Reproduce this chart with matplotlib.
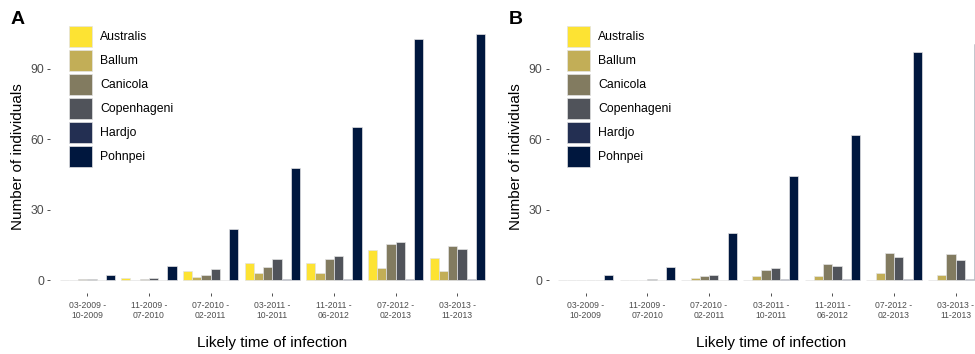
import numpy as np
import matplotlib
matplotlib.use("Agg")
import matplotlib.pyplot as plt

plt.rcParams["font.family"] = ["Liberation Sans", "DejaVu Sans"]

periods = ["03-2009 -\n10-2009", "11-2009 -\n07-2010", "07-2010 -\n02-2011",
           "03-2011 -\n10-2011", "11-2011 -\n06-2012", "07-2012 -\n02-2013",
           "03-2013 -\n11-2013"]
serovars = ["Australis", "Ballum", "Canicola", "Copenhageni", "Hardjo", "Pohnpei"]
colors = ["#FDE333", "#C2AE57", "#827B60", "#50535A", "#232F52", "#00173E"]

# panel A: counts per period for each serovar
a_australis = [0.2, 1.0, 3.7, 7.2, 7.2, 13.0, 9.5]
a_ballum = [0.2, 0.2, 1.4, 3.1, 3.1, 5.0, 3.7]
a_canicola = [0.3, 0.5, 2.3, 5.5, 8.9, 15.3, 14.7]
a_copenhageni = [0.7, 1.0, 4.7, 8.9, 10.3, 16.2, 13.4]
a_hardjo = [0.2, 0.2, 0.2, 0.6, 0.6, 0.6, 0.6]
a_pohnpei = [2.0, 5.9, 22.0, 47.6, 65.4, 102.7, 105.0]

# panel B
b_australis = [0.2, 0.0, 0.2, 0.2, 0.2, 0.2, 0.2]
b_ballum = [0.2, 0.2, 1.0, 1.8, 1.8, 3.1, 2.3]
b_canicola = [0.2, 0.2, 1.8, 4.2, 6.8, 11.7, 11.2]
b_copenhageni = [0.2, 0.6, 2.3, 5.1, 5.9, 9.9, 8.5]
b_hardjo = [0.2, 0.2, 0.2, 0.6, 0.6, 0.6, 0.6]
b_pohnpei = [2.0, 5.7, 20.2, 44.4, 62.0, 97.0, 100.6]

panel_a = [a_australis, a_ballum, a_canicola, a_copenhageni, a_hardjo, a_pohnpei]
panel_b = [b_australis, b_ballum, b_canicola, b_copenhageni, b_hardjo, b_pohnpei]

W, H = 975, 354
fig = plt.figure(figsize=(W / 100, H / 100), dpi=100)


def draw_panel(left_px, series, letter):
    ax = fig.add_axes([left_px / W, 61.5 / H, 444 / W, 271.2 / H])
    x = np.arange(len(periods))
    bw = 0.15
    for i, (vals, c, name) in enumerate(zip(series, colors, serovars)):
        ax.bar(x + (i - 2.5) * bw, vals, width=bw, color=c, edgecolor="#E3E3E3",
               linewidth=0.5, label=name)
    ax.set_xlim(-0.6, len(periods) - 0.4)
    ax.set_ylim(-5.25, 110.25)
    ax.set_yticks([0, 30, 60, 90])
    ax.set_xticks(x)
    ax.set_xticklabels(periods, fontsize=6.2, color="#4D4D4D", linespacing=1.15)
    ax.tick_params(axis="y", labelsize=8.8, labelcolor="#4D4D4D", length=2.5,
                   width=0.6, color="#333333", pad=2)
    ax.tick_params(axis="x", length=2.5, width=0.6, color="#333333", pad=3.5)
    for s in ax.spines.values():
        s.set_visible(False)
    ax.set_xlabel("Likely time of infection", fontsize=11, labelpad=11.5)
    ax.set_ylabel("Number of individuals", fontsize=11, labelpad=4)
    ax.legend(loc="upper left", frameon=False, fontsize=8.8,
              bbox_to_anchor=((left_px + 18.3) / W, 1 - 26 / H),
              bbox_transform=fig.transFigure, borderpad=0, borderaxespad=0,
              handlelength=1.88, handleheight=2.27, labelspacing=0.245,
              handletextpad=0.68)
    fig.text((left_px - 40) / W, 1 - 23.5 / H, letter, fontsize=14,
             fontweight="bold", ha="left", va="baseline")
    return ax


draw_panel(50.3, panel_a, "A")
draw_panel(548.7, panel_b, "B")

fig.savefig("out.png", dpi=100)
